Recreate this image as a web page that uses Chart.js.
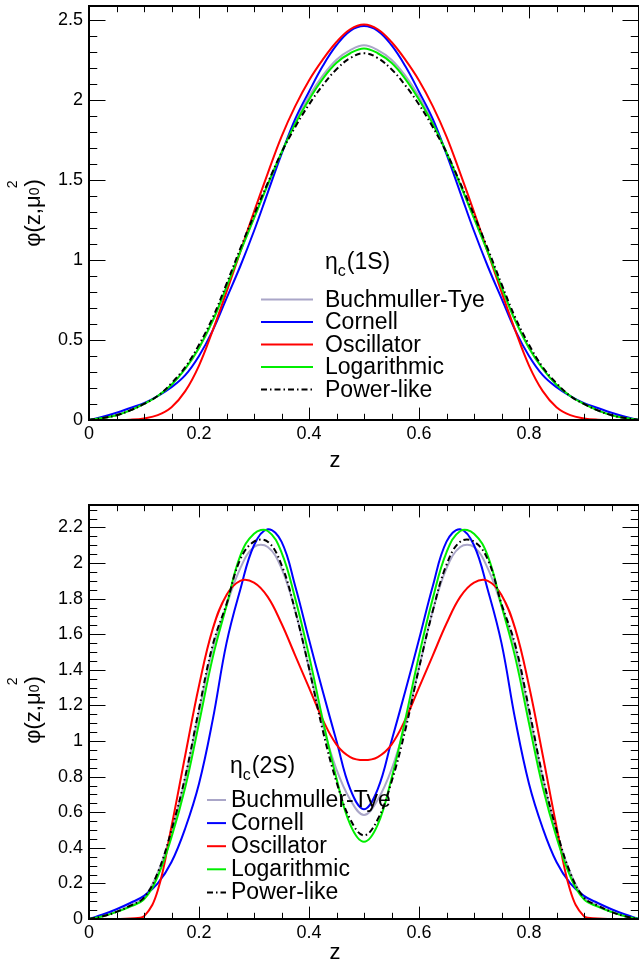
<!DOCTYPE html>
<html>
<head>
<meta charset="utf-8">
<script src="https://cdn.jsdelivr.net/npm/chart.js@4.4.0/dist/chart.umd.min.js"></script>
<style>
  html, body { margin: 0; padding: 0; background: #fff; }
  #wrap { position: relative; width: 639px; height: 967px; }
  canvas { position: absolute; left: 0; }
  #top { top: 0; }
  #bottom { top: 475px; }
</style>
</head>
<body>
<div id="wrap">
  <canvas id="top" width="639" height="475"></canvas>
  <canvas id="bottom" width="639" height="492"></canvas>
</div>
<script>
/* eta_c(1S) / eta_c(2S) distribution amplitudes, five potential models */

const FONT = '"Liberation Sans", Arial, Helvetica, sans-serif';

const Z = [0, 0.025, 0.05, 0.075, 0.1, 0.125, 0.15, 0.175, 0.2, 0.225, 0.25, 0.275, 0.3, 0.325, 0.35, 0.375, 0.4, 0.425, 0.45, 0.475, 0.5,
           0.525, 0.55, 0.575, 0.6, 0.625, 0.65, 0.675, 0.7, 0.725, 0.75, 0.775, 0.8, 0.825, 0.85, 0.875, 0.9, 0.925, 0.95, 0.975, 1];

const MODELS = ['Buchmuller-Tye', 'Cornell', 'Oscillator', 'Logarithmic', 'Power-like'];

// ---- eta_c(1S) ----
const BT_1S      = [0, 0.012, 0.03, 0.06, 0.10, 0.15, 0.22, 0.32, 0.45, 0.62, 0.83, 1.05, 1.26, 1.47, 1.67, 1.86, 2.02, 2.15, 2.25, 2.31, 2.34,
                    2.31, 2.25, 2.15, 2.02, 1.86, 1.67, 1.47, 1.26, 1.05, 0.83, 0.62, 0.45, 0.32, 0.22, 0.15, 0.10, 0.06, 0.03, 0.012, 0];
const CORNELL_1S = [0, 0.02, 0.045, 0.075, 0.105, 0.15, 0.205, 0.28, 0.40, 0.56, 0.76, 0.96, 1.18, 1.42, 1.66, 1.88, 2.05, 2.21, 2.34, 2.43, 2.46,
                    2.43, 2.34, 2.21, 2.05, 1.88, 1.66, 1.42, 1.18, 0.96, 0.76, 0.56, 0.40, 0.28, 0.205, 0.15, 0.105, 0.075, 0.045, 0.02, 0];
const OSC_1S     = [0, 0, 0, 0.002, 0.01, 0.03, 0.08, 0.18, 0.34, 0.56, 0.80, 1.05, 1.30, 1.54, 1.77, 1.96, 2.12, 2.25, 2.36, 2.44, 2.47,
                    2.44, 2.36, 2.25, 2.12, 1.96, 1.77, 1.54, 1.30, 1.05, 0.80, 0.56, 0.34, 0.18, 0.08, 0.03, 0.01, 0.002, 0, 0, 0];
const LOG_1S     = [0, 0.012, 0.03, 0.06, 0.10, 0.15, 0.22, 0.32, 0.45, 0.62, 0.83, 1.05, 1.26, 1.47, 1.67, 1.85, 2.00, 2.13, 2.23, 2.29, 2.32,
                    2.29, 2.23, 2.13, 2.00, 1.85, 1.67, 1.47, 1.26, 1.05, 0.83, 0.62, 0.45, 0.32, 0.22, 0.15, 0.10, 0.06, 0.03, 0.012, 0];
const POW_1S     = [0, 0.012, 0.03, 0.06, 0.10, 0.15, 0.23, 0.33, 0.47, 0.64, 0.85, 1.07, 1.28, 1.48, 1.67, 1.83, 1.97, 2.09, 2.19, 2.26, 2.29,
                    2.26, 2.19, 2.09, 1.97, 1.83, 1.67, 1.48, 1.28, 1.07, 0.85, 0.64, 0.47, 0.33, 0.23, 0.15, 0.10, 0.06, 0.03, 0.012, 0];

// ---- eta_c(2S) ----
const BT_2S      = [0, 0.015, 0.04, 0.075, 0.12, 0.26, 0.49, 0.79, 1.16, 1.52, 1.76, 1.97, 2.09, 2.09, 1.97, 1.73, 1.41, 1.09, 0.84, 0.67, 0.584,
                    0.67, 0.84, 1.09, 1.41, 1.73, 1.97, 2.09, 2.09, 1.97, 1.76, 1.52, 1.16, 0.79, 0.49, 0.26, 0.12, 0.075, 0.04, 0.015, 0];
const CORNELL_2S = [0, 0.025, 0.055, 0.09, 0.13, 0.20, 0.32, 0.51, 0.76, 1.12, 1.55, 1.85, 2.10, 2.19, 2.12, 1.87, 1.57, 1.28, 1.00, 0.73, 0.617,
                    0.73, 1.00, 1.28, 1.57, 1.87, 2.12, 2.19, 2.10, 1.85, 1.55, 1.12, 0.76, 0.51, 0.32, 0.20, 0.13, 0.09, 0.055, 0.025, 0];
const OSC_2S     = [0, 0, 0, 0.003, 0.015, 0.16, 0.52, 0.92, 1.31, 1.63, 1.82, 1.90, 1.89, 1.81, 1.66, 1.48, 1.30, 1.12, 0.98, 0.91, 0.893,
                    0.91, 0.98, 1.12, 1.30, 1.48, 1.66, 1.81, 1.89, 1.90, 1.82, 1.63, 1.31, 0.92, 0.52, 0.16, 0.015, 0.003, 0, 0, 0];
const LOG_2S     = [0, 0.015, 0.04, 0.07, 0.11, 0.24, 0.46, 0.74, 1.10, 1.47, 1.76, 2.04, 2.165, 2.18, 2.06, 1.80, 1.48, 1.12, 0.79, 0.53, 0.434,
                    0.53, 0.79, 1.12, 1.48, 1.80, 2.06, 2.18, 2.165, 2.04, 1.76, 1.47, 1.10, 0.74, 0.46, 0.24, 0.11, 0.07, 0.04, 0.015, 0];
const POW_2S     = [0, 0.015, 0.04, 0.075, 0.12, 0.26, 0.50, 0.80, 1.18, 1.54, 1.77, 2.02, 2.12, 2.12, 1.99, 1.73, 1.41, 1.06, 0.77, 0.56, 0.47,
                    0.56, 0.77, 1.06, 1.41, 1.73, 1.99, 2.12, 2.12, 2.02, 1.77, 1.54, 1.18, 0.80, 0.50, 0.26, 0.12, 0.075, 0.04, 0.015, 0];

// line styles, same order as MODELS (lower "order" = drawn on top)
const STYLE = [
  { color: 'rgb(170,166,200)', dash: [],            order: 4 },
  { color: '#0000ff',          dash: [],            order: 3 },
  { color: '#ff0000',          dash: [],            order: 2 },
  { color: '#00ee00',          dash: [],            order: 1 },
  { color: '#000000',          dash: [6, 3, 1.5, 3], order: 0 },
];

const near = (v, step) => Math.abs(v / step - Math.round(v / step)) < 1e-6;

/* ─── ROOT style frame: inward ticks on all four sides ─── */
const frameTicks = {
  id: 'frameTicks',
  afterDatasetsDraw(chart, args, o) {
    const { ctx, chartArea: a, scales: { x, y } } = chart;
    const xLen = 0.03 * (a.bottom - a.top);
    const yLen = 0.03 * (a.right - a.left);
    ctx.save();
    ctx.strokeStyle = '#000';
    ctx.lineWidth = 1;
    ctx.beginPath();
    x.ticks.forEach(t => {
      const px = Math.round(x.getPixelForValue(t.value)) + 0.5;
      const l = near(t.value, o.xMajor) ? xLen : xLen / 2;
      ctx.moveTo(px, a.bottom); ctx.lineTo(px, a.bottom - l);
      ctx.moveTo(px, a.top);    ctx.lineTo(px, a.top + l);
    });
    y.ticks.forEach(t => {
      const py = Math.round(y.getPixelForValue(t.value)) + 0.5;
      const l = near(t.value, o.yMajor) ? yLen : yLen / 2;
      ctx.moveTo(a.left, py);  ctx.lineTo(a.left + l, py);
      ctx.moveTo(a.right, py); ctx.lineTo(a.right - l, py);
    });
    ctx.stroke();
    ctx.lineWidth = 2;
    ctx.strokeRect(a.left, a.top, a.right - a.left, a.bottom - a.top);
    ctx.restore();
  }
};

// one rotated (-90°) piece of text; s runs up the page, t is sideways (negative = left)
function rotText(ctx, text, font, x0, y0, s, t) {
  ctx.save();
  ctx.font = font;
  ctx.translate(x0 + t, y0 - s);
  ctx.rotate(-Math.PI / 2);
  ctx.fillText(text, 0, 0);
  ctx.restore();
}

/* ─── axis titles + legend ─── */
const panelText = {
  id: 'panelText',
  afterDraw(chart, args, o) {
    const ctx = chart.ctx;
    const big = 22, leg = 23;
    ctx.save();
    ctx.fillStyle = '#000';
    ctx.textBaseline = 'alphabetic';

    // x title
    ctx.font = `${big}px ${FONT}`;
    ctx.textAlign = 'center';
    ctx.fillText('z', o.zX, o.zBase);

    // y title  φ(z,μ0²)
    ctx.textAlign = 'left';
    const main = `${big}px ${FONT}`;
    const small = `${Math.round(big * 0.65)}px ${FONT}`;
    ctx.font = main;
    const w1 = ctx.measureText('φ(z,μ').width;
    const w3 = ctx.measureText(')').width;
    ctx.font = small;
    const wd = ctx.measureText('0').width + 1;
    const y0 = o.yTitleC + (w1 + wd + w3) / 2;
    rotText(ctx, 'φ(z,μ', main, o.yTitleX, y0, 0, 0);
    rotText(ctx, '0', small, o.yTitleX, y0, w1, -1);
    rotText(ctx, '2', small, o.yTitleX, y0, w1 + 7, -23);
    rotText(ctx, ')', main, o.yTitleX, y0, w1 + wd, 0);

    // legend header  η_c(nS)
    ctx.font = `${leg}px ${FONT}`;
    let hx = o.etaX;
    ctx.fillText('η', hx, o.etaBase);
    hx += ctx.measureText('η').width;
    ctx.font = `${Math.round(leg * 0.68)}px ${FONT}`;
    ctx.fillText('c', hx, o.etaBase + 7);
    hx += ctx.measureText('c').width + 1;
    ctx.font = `${leg}px ${FONT}`;
    ctx.fillText(o.state, hx, o.etaBase);

    // legend entries
    chart.data.datasets.forEach((ds, i) => {
      const ly = o.rowY0 + i * o.rowDy;
      ctx.strokeStyle = ds.borderColor;
      ctx.lineWidth = 2;
      ctx.setLineDash(ds.borderDash);
      ctx.beginPath();
      ctx.moveTo(o.lineX0, ly); ctx.lineTo(o.lineX1, ly);
      ctx.stroke();
      ctx.setLineDash([]);
      ctx.fillText(ds.label, o.textX, ly + 7);
    });
    ctx.restore();
  }
};

function makePanel(id, series, p) {
  const datasets = series.map((vals, i) => ({
    label: MODELS[i],
    data: Z.map((z, k) => ({ x: z, y: vals[k] })),
    borderColor: STYLE[i].color,
    borderDash: STYLE[i].dash,
    borderWidth: 2,
    pointRadius: 0,
    fill: false,
    tension: 0.4,
    order: STYLE[i].order,
  }));

  const tickFont = { family: FONT, size: 18 };

  return new Chart(document.getElementById(id), {
    type: 'line',
    data: { datasets },
    options: {
      responsive: false,
      animation: false,
      devicePixelRatio: 1,
      layout: { padding: { top: p.top, right: 0, bottom: 0, left: 0 } },
      plugins: {
        legend: { display: false },
        tooltip: { enabled: false },
        frameTicks: { xMajor: 0.2, yMajor: p.yMajor },
        panelText: p.text,
      },
      scales: {
        x: {
          type: 'linear', min: 0, max: 1,
          afterFit(s) { s.height = p.xHeight; s.paddingLeft = 0; s.paddingRight = 0; },
          grid: { display: false, drawTicks: false },
          border: { display: false },
          ticks: {
            stepSize: 0.05, includeBounds: false, autoSkip: false, maxRotation: 0,
            padding: 3, color: '#000', font: tickFont,
            callback: v => {
              const r = Math.round(v * 100);
              return (r % 20 === 0 && r !== 100) ? String(r / 100) : '';
            }
          }
        },
        y: {
          type: 'linear', min: 0, max: p.yMax,
          afterFit(s) { s.width = 89; s.paddingTop = 0; s.paddingBottom = 0; },
          grid: { display: false, drawTicks: false },
          border: { display: false },
          ticks: {
            stepSize: p.yMinor, includeBounds: false, autoSkip: false,
            padding: 6, color: '#000', font: tickFont,
            callback: v => near(v, p.yMajor) ? String(Math.round(v * 100) / 100) : ''
          }
        }
      }
    },
    plugins: [frameTicks, panelText]
  });
}

makePanel('top', [BT_1S, CORNELL_1S, OSC_1S, LOG_1S, POW_1S], {
  top: 6, xHeight: 55, yMax: 2.585, yMajor: 0.5, yMinor: 0.1,
  text: {
    state: '(1S)', zX: 335, zBase: 467, yTitleX: 40, yTitleC: 213,
    etaX: 325, etaBase: 269, lineX0: 261, lineX1: 313, textX: 325,
    rowY0: 299.5, rowDy: 22.5
  }
});

makePanel('bottom', [BT_2S, CORNELL_2S, OSC_2S, LOG_2S, POW_2S], {
  top: 30, xHeight: 48, yMax: 2.326, yMajor: 0.2, yMinor: 0.05,
  text: {
    state: '(2S)', zX: 335, zBase: 484, yTitleX: 40, yTitleC: 235,
    etaX: 230, etaBase: 298, lineX0: 207, lineX1: 226, textX: 231,
    rowY0: 325, rowDy: 23.1
  }
});
</script>
</body>
</html>
